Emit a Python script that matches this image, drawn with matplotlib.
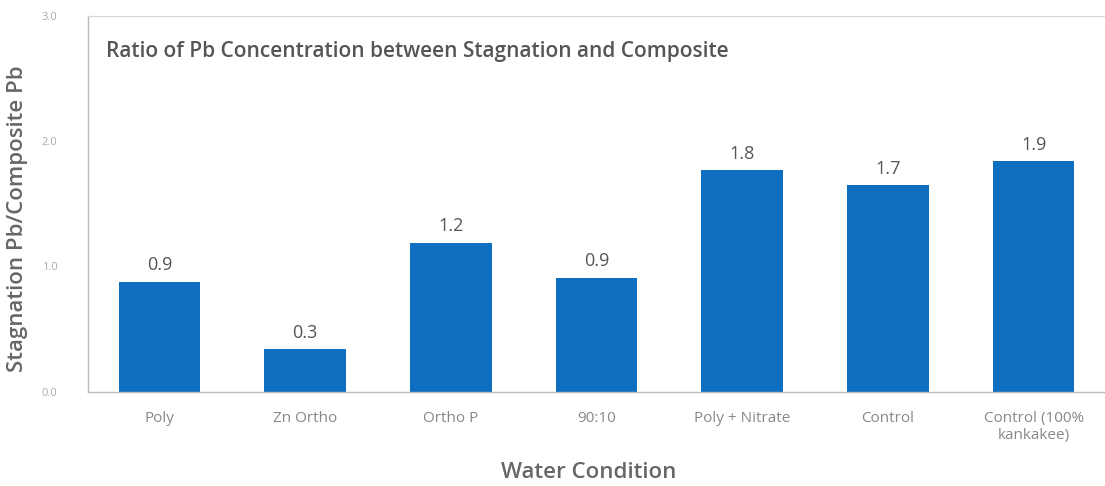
import matplotlib
matplotlib.use("Agg")
import matplotlib.pyplot as plt

# data
conditions = ["Poly", "Zn Ortho", "Ortho P", "90:10", "Poly + Nitrate", "Control", "Control (100%\nkankakee)"]
ratios = [0.88, 0.34, 1.19, 0.91, 1.77, 1.65, 1.84]
value_labels = ["0.9", "0.3", "1.2", "0.9", "1.8", "1.7", "1.9"]
y_ticks = [0.0, 1.0, 2.0, 3.0]

plt.rcParams['font.family'] = ['Open Sans', 'DejaVu Sans']

fig = plt.figure(figsize=(11.05, 4.86), dpi=100)
ax = fig.add_axes([0.0796, 0.194, 0.9204, 0.773])

x = range(len(conditions))
ax.bar(x, ratios, width=0.56, color='#0E6FC1', zorder=2)

for i, (v, lab) in enumerate(zip(ratios, value_labels)):
    ax.text(i, v + 0.06, lab, ha='center', va='bottom', fontsize=13, color='#555555')

ax.set_xlim(-0.49, 6.49)
ax.set_ylim(0, 3.0)
ax.set_yticks(y_ticks)
ax.set_yticklabels([f"{t:.1f}" for t in y_ticks], fontsize=8, color='#aaaaaa')
ax.set_xticks(list(x))
ax.set_xticklabels(conditions, fontsize=11, color='#888888')
ax.tick_params(axis='x', length=0, pad=14)
ax.tick_params(axis='y', length=0, pad=22)

for side in ['left', 'bottom']:
    ax.spines[side].set_color('#bbbbbb')
    ax.spines[side].set_linewidth(1)
ax.spines['top'].set_color('#d6d6d6')
ax.spines['right'].set_visible(False)

ax.text(0.018, 0.905, "Ratio of Pb Concentration between Stagnation and Composite",
        transform=ax.transAxes, fontsize=15, color='#555555', fontweight='semibold',
        ha='left', va='center')

ax.set_ylabel("Stagnation Pb/Composite Pb", fontsize=16, color='#666666', fontweight='semibold')
ax.set_xlabel("Water Condition", fontsize=16, color='#666666', fontweight='semibold')
ax.xaxis.set_label_coords(0.492, -0.188)
ax.yaxis.set_label_coords(-0.059, 0.46)

fig.savefig("out.png", dpi=100)
